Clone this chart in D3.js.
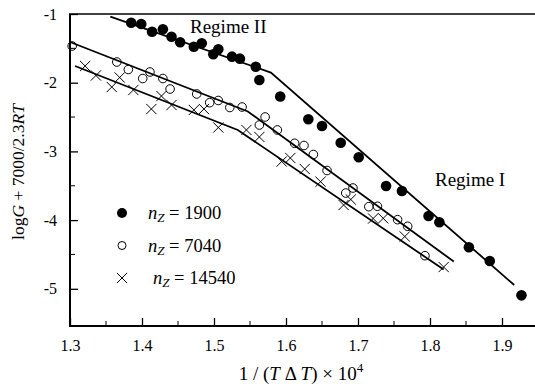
<!DOCTYPE html>
<html>
<head>
<meta charset="utf-8">
<script src="https://cdn.jsdelivr.net/npm/d3@7"></script>
<style>
  body { margin: 0; background: #fff; }
  text { font-family: "Liberation Serif", "Times New Roman", serif; fill: #000; }
</style>
</head>
<body>
<div id="chart"></div>
<script>
// data
var x1900 = [1.385, 1.399, 1.414, 1.429, 1.441, 1.453, 1.472, 1.483, 1.499, 1.506, 1.525, 1.536,
             1.558, 1.563, 1.592, 1.631, 1.650, 1.676, 1.701, 1.739, 1.761, 1.798, 1.813, 1.854, 1.883, 1.927];
var y1900 = [-1.127, -1.146, -1.258, -1.223, -1.331, -1.412, -1.476, -1.427, -1.586, -1.514, -1.621, -1.650,
             -1.767, -1.961, -2.201, -2.533, -2.630, -2.873, -3.086, -3.504, -3.576, -3.940, -4.032, -4.396, -4.596, -5.095];

var x7040 = [1.303, 1.365, 1.381, 1.401, 1.411, 1.429, 1.439, 1.476, 1.494, 1.506, 1.522, 1.539, 1.563,
             1.571, 1.588, 1.612, 1.625, 1.638, 1.657, 1.683, 1.693, 1.715, 1.727, 1.755, 1.769, 1.793];
var y7040 = [-1.466, -1.699, -1.808, -1.939, -1.844, -1.939, -2.092, -2.164, -2.291, -2.259, -2.361, -2.354, -2.616,
             -2.499, -2.688, -2.882, -2.914, -3.045, -3.278, -3.606, -3.533, -3.805, -3.799, -3.994, -4.090, -4.518];

var x14540 = [1.321, 1.336, 1.358, 1.369, 1.388, 1.413, 1.427, 1.441, 1.472, 1.486, 1.506, 1.545,
              1.563, 1.594, 1.606, 1.626, 1.648, 1.680, 1.690, 1.721, 1.735, 1.765, 1.819];
var y14540 = [-1.757, -1.895, -2.063, -1.924, -2.106, -2.383, -2.194, -2.325, -2.397, -2.383, -2.652, -2.688,
              -2.790, -3.147, -3.096, -3.256, -3.441, -3.780, -3.700, -3.977, -3.974, -4.239, -4.683];

// fitted lines (two regimes each)
var fit1900x = [1.356, 1.579, 1.917];
var fit1900y = [-1.039, -1.852, -4.945];
var fit7040x = [1.300, 1.547, 1.833];
var fit7040y = [-1.408, -2.419, -4.603];
var fit14540x = [1.307, 1.533, 1.819];
var fit14540y = [-1.757, -2.689, -4.719];

var xTicks = [1.3, 1.4, 1.5, 1.6, 1.7, 1.8, 1.9];
var yTicks = [-1, -2, -3, -4, -5];
var legendLabels = ["1900", "7040", "14540"];

// set the dimensions
var W = 535, H = 386;
var pl = 70, pr = 535, pt = 14, pb = 326;
var serif = "'Liberation Serif', 'Times New Roman', serif";

var svg = d3.select("#chart")
  .append("svg")
    .attr("width", W)
    .attr("height", H);

var x = d3.scaleLinear()
  .domain([1.3, 1.3 + (pr - pl) / 720])
  .range([pl, pr]);

var y = d3.scaleLinear()
  .domain([-1 - (pb - pt) / 68.7, -1])
  .range([pb, pt]);

function pts(xs, ys) {
  return xs.map(function(d, i) { return {x: d, y: ys[i]}; });
}

// fit lines
var line = d3.line()
  .x(function(d) { return x(d.x); })
  .y(function(d) { return y(d.y); });

[[fit1900x, fit1900y], [fit7040x, fit7040y], [fit14540x, fit14540y]].forEach(function(f) {
  svg.append("path")
    .datum(pts(f[0], f[1]))
    .attr("fill", "none")
    .attr("stroke", "#000")
    .attr("stroke-width", 1.8)
    .attr("d", line);
});

// markers
svg.append("g").selectAll("circle")
  .data(pts(x7040, y7040))
  .enter()
  .append("circle")
    .attr("cx", function(d) { return x(d.x); })
    .attr("cy", function(d) { return y(d.y); })
    .attr("r", 4.3)
    .attr("fill", "none")
    .attr("stroke", "#000")
    .attr("stroke-width", 1);

var cross = d3.symbol().type(d3.symbolX).size(70);
svg.append("g").selectAll("path")
  .data(pts(x14540, y14540))
  .enter()
  .append("path")
    .attr("transform", function(d) { return "translate(" + x(d.x) + "," + y(d.y) + ")"; })
    .attr("d", cross)
    .attr("fill", "none")
    .attr("stroke", "#000")
    .attr("stroke-width", 1);

svg.append("g").selectAll("circle")
  .data(pts(x1900, y1900))
  .enter()
  .append("circle")
    .attr("cx", function(d) { return x(d.x); })
    .attr("cy", function(d) { return y(d.y); })
    .attr("r", 5.3)
    .attr("fill", "#000");

// axes (ticks pointing inward)
var xAxis = svg.append("g")
  .attr("transform", "translate(0," + pb + ")")
  .call(d3.axisBottom(x).tickValues(xTicks).tickSize(-8).tickPadding(14)
    .tickFormat(d3.format(".1f")));
xAxis.append("g").selectAll("line")
  .data(xTicks.map(function(d) { return d + 0.05; }))
  .enter()
  .append("line")
    .attr("x1", function(d) { return x(d); })
    .attr("x2", function(d) { return x(d); })
    .attr("y1", 0).attr("y2", -5)
    .attr("stroke", "#000");

var yAxis = svg.append("g")
  .attr("transform", "translate(" + pl + ",0)")
  .call(d3.axisLeft(y).tickValues(yTicks).tickSize(-8).tickPadding(13)
    .tickFormat(function(d) { return d; }));
yAxis.append("g").selectAll("line")
  .data([-1.5, -2.5, -3.5, -4.5])
  .enter()
  .append("line")
    .attr("x1", 0).attr("x2", 5)
    .attr("y1", function(d) { return y(d); })
    .attr("y2", function(d) { return y(d); })
    .attr("stroke", "#000");

svg.selectAll(".domain").remove();
xAxis.attr("font-family", serif).attr("font-size", 16);
yAxis.attr("font-family", serif).attr("font-size", 16);
svg.selectAll(".tick line").attr("stroke", "#000").attr("stroke-width", 1.3);
svg.selectAll(".tick text").attr("fill", "#222");

// frame: left, bottom and top
svg.append("line").attr("x1", pl).attr("x2", pl).attr("y1", pt).attr("y2", pb + 1)
  .attr("stroke", "#000").attr("stroke-width", 2);
svg.append("line").attr("x1", pl - 1).attr("x2", pr).attr("y1", pb).attr("y2", pb)
  .attr("stroke", "#000").attr("stroke-width", 2);
svg.append("line").attr("x1", pl - 1).attr("x2", pr).attr("y1", pt).attr("y2", pt)
  .attr("stroke", "#000").attr("stroke-width", 1.5);

// regime labels
svg.append("text").attr("x", 190).attr("y", 33).style("font-size", "19px").text("Regime II");
svg.append("text").attr("x", 435).attr("y", 186).style("font-size", "19px").text("Regime I");

// legend
var legend = svg.append("g");
legendLabels.forEach(function(lab, i) {
  var ly = 213 + i * 32.5;
  if (i === 0) {
    legend.append("circle").attr("cx", 122).attr("cy", ly).attr("r", 5).attr("fill", "#000");
  } else if (i === 1) {
    legend.append("circle").attr("cx", 122).attr("cy", ly).attr("r", 4).attr("fill", "none")
      .attr("stroke", "#000");
  } else {
    legend.append("path").attr("transform", "translate(122," + ly + ")")
      .attr("d", cross).attr("fill", "none").attr("stroke", "#000");
  }
  var t = legend.append("text")
    .attr("x", i === 2 ? 153 : 148)
    .attr("y", ly + 6)
    .style("font-size", "18.5px");
  t.append("tspan").style("font-style", "italic").text("n");
  t.append("tspan").style("font-style", "italic").style("font-size", "13px")
    .attr("dy", 3).text("Z");
  t.append("tspan").attr("dy", -3).text(" = " + lab);
});

// axis titles
var xl = svg.append("text")
  .attr("x", 301)
  .attr("y", 380)
  .attr("text-anchor", "middle")
  .style("font-size", "19px");
xl.append("tspan").text("1 / (");
xl.append("tspan").style("font-style", "italic").text("T");
xl.append("tspan").text(" \u0394 ");
xl.append("tspan").style("font-style", "italic").text("T");
xl.append("tspan").text(") \u00d7 10");
xl.append("tspan").attr("dy", -8).style("font-size", "13px").text("4");

var yl = svg.append("text")
  .attr("transform", "translate(24,172) rotate(-90)")
  .attr("text-anchor", "middle")
  .style("font-size", "17.5px");
yl.append("tspan").text("log");
yl.append("tspan").style("font-style", "italic").text("G");
yl.append("tspan").text(" + 7000/2.3");
yl.append("tspan").style("font-style", "italic").text("RT");
</script>
</body>
</html>
